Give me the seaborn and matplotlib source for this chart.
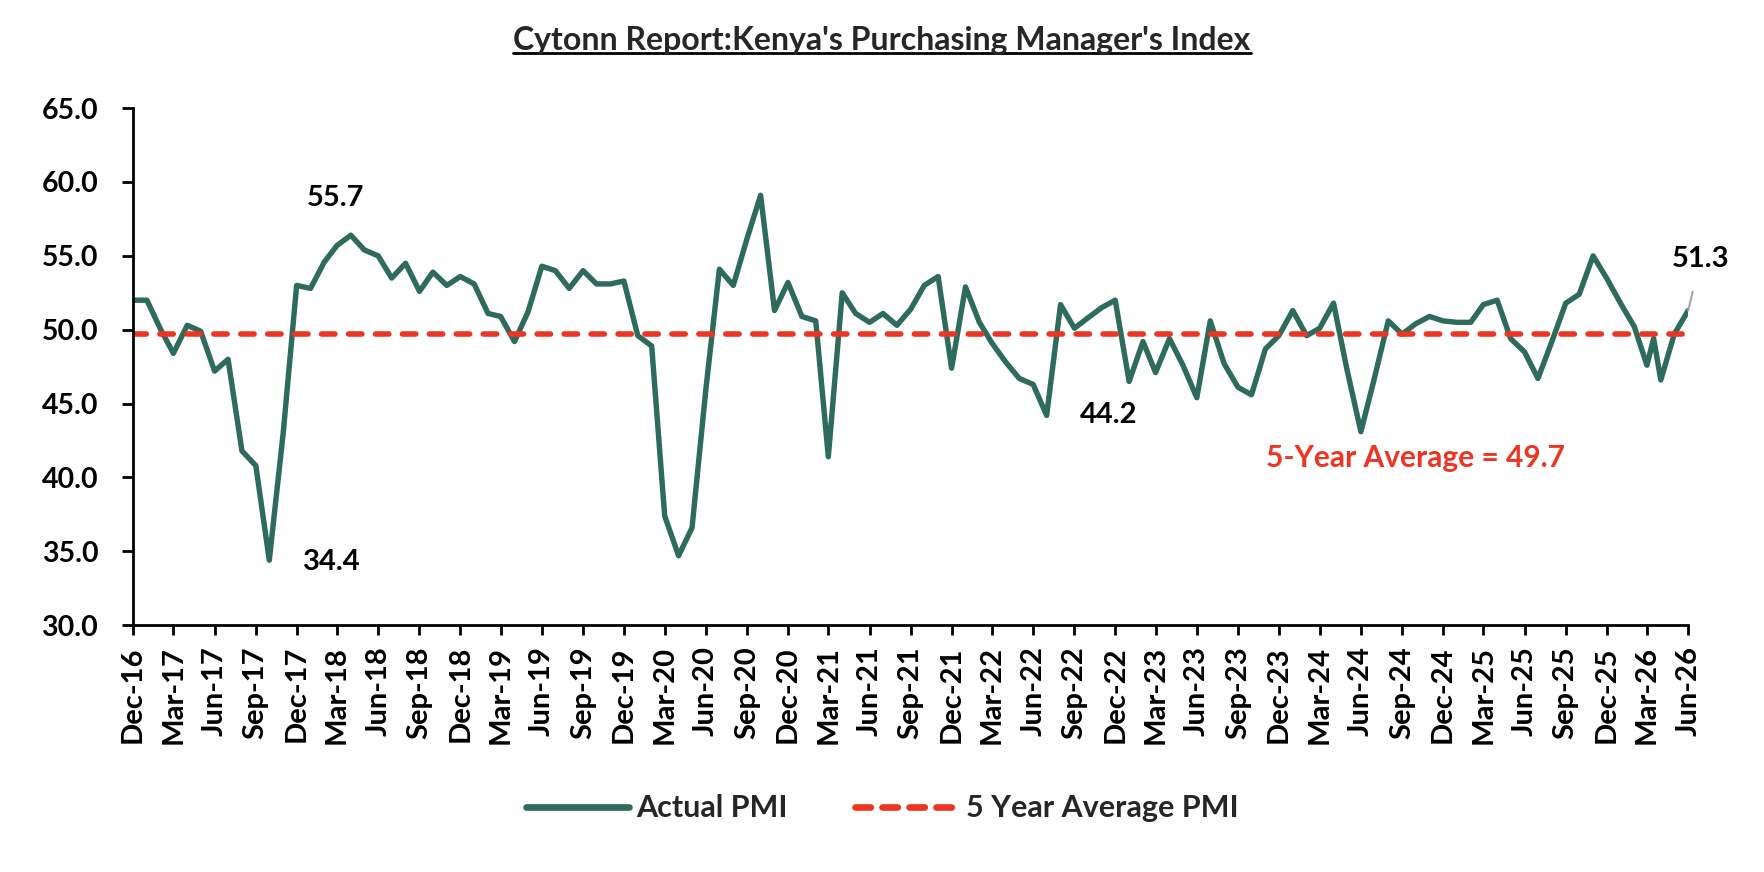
import matplotlib
matplotlib.use("Agg")
import matplotlib.pyplot as plt
import matplotlib.dates as mdates
from matplotlib import font_manager as fm
from matplotlib.lines import Line2D
import seaborn as sns
import pandas as pd

# monthly PMI readings, Dec-16 .. Jun-26
months = pd.date_range("2016-12-01", "2026-06-01", freq="MS")
pmi = [52.0, 52.0, 50.0, 48.4, 50.3, 49.9, 47.2, 48.0, 41.8, 40.8, 34.4, 43.0,
       53.0, 52.8, 54.6, 55.7, 56.4, 55.4, 55.0, 53.5, 54.5, 52.6, 53.9, 53.0,
       53.6, 53.1, 51.1, 50.9, 49.2, 51.2, 54.3, 54.0, 52.8, 54.0, 53.1, 53.1,
       53.3, 49.6, 48.9, 37.4, 34.7, 36.6, 46.0, 54.1, 53.0, 56.2, 59.1, 51.3,
       53.2, 50.9, 50.6, 41.4, 52.5, 51.1, 50.5, 51.1, 50.3, 51.4, 53.0, 53.6,
       47.4, 52.9, 50.5, 49.1, 47.8, 46.7, 46.3, 44.2, 51.7, 50.1, 50.8, 51.5,
       52.0, 46.5, 49.2, 47.1, 49.4, 47.6, 45.4, 50.6, 47.7, 46.1, 45.6, 48.7,
       49.6, 51.3, 49.6, 50.1, 51.8, 47.3, 43.1, 46.7, 50.6, 49.7, 50.4, 50.9,
       50.6, 50.5, 50.5, 51.7, 52.0, 49.4, 48.5, 46.7, 49.2, 51.8, 52.4, 55.0,
       53.5, 51.8, 50.2, 47.6, 46.6, 49.7, 51.3]
# an additional reading plotted between Mar-26 and Apr-26
extra_dates = [pd.Timestamp("2026-03-16")]
extra_pmi = [49.4]
five_year_avg = 49.7

df = pd.concat([pd.DataFrame({"date": months, "pmi": pmi}),
                pd.DataFrame({"date": extra_dates, "pmi": extra_pmi})]).sort_values("date")
avg_df = pd.DataFrame({"date": months, "avg": [five_year_avg] * len(months)})

green = "#2E6B5C"
red = "#EE3524"


def has_bold(fam):
    return any(f.name == fam and isinstance(f.weight, int) and f.weight >= 600
               for f in fm.fontManager.ttflist)


font = next((f for f in ["Lato", "Open Sans", "Noto Sans", "Roboto", "Liberation Sans"]
             if has_bold(f)), "DejaVu Sans")

sns.set_style("white")
plt.rcParams["font.family"] = [font, "DejaVu Sans"]
plt.rcParams["font.weight"] = "bold"

fig, ax = plt.subplots(figsize=(17.64, 8.72), dpi=100)
fig.subplots_adjust(left=0.0754, right=0.957, top=0.876, bottom=0.283)

sns.lineplot(data=df, x="date", y="pmi", ax=ax, color=green, linewidth=3.9,
             sort=False, label="Actual PMI")
sns.lineplot(data=avg_df, x="date", y="avg", ax=ax, color=red, linewidth=4.0,
             label="5 Year Average PMI")
avg_line = ax.lines[-1]
avg_line.set_linestyle((0, (2.4, 2.45)))
avg_line.set_dash_capstyle("round")

ax.set_xlim(months[0], months[-1])
ax.set_ylim(30, 65)
ax.set_yticks(range(30, 66, 5))
ax.yaxis.set_major_formatter(matplotlib.ticker.FormatStrFormatter("%.1f"))
ax.xaxis.set_major_locator(mdates.MonthLocator(bymonth=[3, 6, 9, 12]))
ax.xaxis.set_major_formatter(mdates.DateFormatter("%b-%y"))
ax.set_xlabel("")
ax.set_ylabel("")

for s in ["top", "right"]:
    ax.spines[s].set_visible(False)
for s in ["left", "bottom"]:
    ax.spines[s].set_color("black")
    ax.spines[s].set_linewidth(2)

ax.tick_params(axis="y", direction="out", length=8, width=2, pad=17,
               labelsize=20.5, colors="black", left=True)
ax.tick_params(axis="x", direction="out", length=7, width=2, pad=8,
               labelsize=21, colors="black", bottom=True, labelrotation=90)
for lab in ax.get_xticklabels() + ax.get_yticklabels():
    lab.set_fontweight("bold")

# data labels
lab_kw = dict(textcoords="offset points", ha="center", va="center",
              fontsize=21, fontweight="bold", color="black")
ax.annotate(f"{pmi[15]:.1f}", xy=(months[15], pmi[15]), xytext=(-1, 34), **lab_kw)
ax.annotate(f"{pmi[10]:.1f}", xy=(months[10], pmi[10]), xytext=(45, -1), **lab_kw)
ax.annotate(f"{pmi[67]:.1f}", xy=(months[67], pmi[67]), xytext=(45, 0), **lab_kw)
ax.annotate(f"{pmi[-1]:.1f}", xy=(months[-1], pmi[-1]), xytext=(9, 37),
            arrowprops=dict(arrowstyle="-", color="#A6A6A6", lw=1.5,
                            shrinkA=12, shrinkB=0), **lab_kw)
ax.text(months[94], 41.3, f"5-Year Average = {five_year_avg}", ha="center",
        va="center", fontsize=21.5, fontweight="bold", color=red)

ax.get_legend().remove()
handles = [Line2D([], [], color=green, linewidth=4.8, solid_capstyle="round"),
           Line2D([], [], color=red, linewidth=4.8, linestyle=(0, (2.3, 1.75)),
                  dash_capstyle="round")]
fig.legend(handles, ["Actual PMI", "5 Year Average PMI"], loc="center",
           bbox_to_anchor=(0.5, 0.073), ncol=2, frameon=False,
           prop={"size": 22, "weight": "bold"}, handlelength=3.37,
           handletextpad=0.25, columnspacing=2.2)

title = fig.text(0.5, 0.954, "Cytonn Report:Kenya's Purchasing Manager's Index",
                 ha="center", va="center", fontsize=23, fontweight="bold")
fig.canvas.draw()
bb = title.get_window_extent().transformed(fig.transFigure.inverted())
fig.add_artist(Line2D([bb.x0, bb.x1], [bb.y0 + 0.002, bb.y0 + 0.002],
                      transform=fig.transFigure, color="black", linewidth=2))

fig.savefig("out.png", dpi=100)
